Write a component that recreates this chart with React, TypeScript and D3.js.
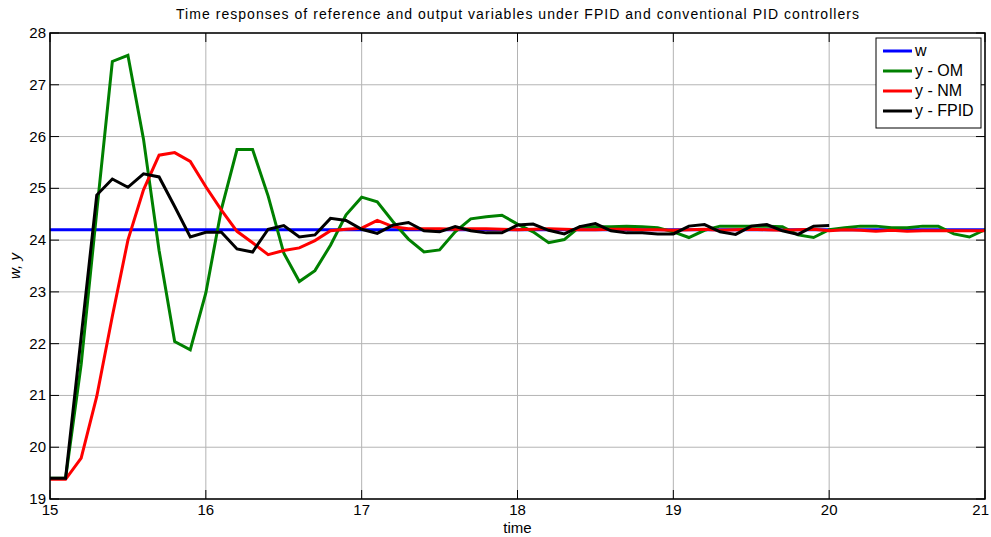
import React from "react";
import * as d3 from "d3";

const W = 991;
const H = 537;

const xTicks = [15, 16, 17, 18, 19, 20, 21];
const yTicks = [19, 20, 21, 22, 23, 24, 25, 26, 27, 28];

const tStart = 15;
const tStep = 0.1;

const wValue = 24.2;
const wTimes = [15, 21];

const yOM = [
  19.4, 19.4, 21.6, 24.55, 27.45, 27.57, 25.95, 23.8, 22.04, 21.88,
  22.98, 24.6, 25.75, 25.75, 24.85, 23.75, 23.2, 23.41, 23.9, 24.49,
  24.83, 24.74, 24.36, 24.02, 23.77, 23.81, 24.16, 24.41, 24.45, 24.48,
  24.31, 24.16, 23.95, 24.01, 24.26, 24.26, 24.26, 24.27, 24.26, 24.24,
  24.16, 24.05, 24.19, 24.27, 24.27, 24.27, 24.27, 24.26, 24.1, 24.05,
  24.2, 24.24, 24.27, 24.27, 24.24, 24.24, 24.27, 24.27, 24.12, 24.06,
  24.2,
];

const yNM = [
  19.38, 19.38, 19.79, 20.98, 22.53, 24.0, 24.97, 25.64, 25.69, 25.52,
  25.03, 24.58, 24.17, 23.95, 23.72, 23.8, 23.85, 23.99, 24.18, 24.21,
  24.23, 24.38, 24.26, 24.22, 24.22, 24.22, 24.21, 24.22, 24.22, 24.21,
  24.2, 24.21, 24.22, 24.21, 24.2, 24.2, 24.21, 24.21, 24.2, 24.2,
  24.19, 24.2, 24.21, 24.19, 24.2, 24.21, 24.2, 24.19, 24.2, 24.21,
  24.18, 24.2, 24.19, 24.17, 24.19, 24.17, 24.18, 24.18, 24.18, 24.18,
  24.18,
];

const yFPID = [
  19.4, 19.4, 22.13, 24.87, 25.18, 25.02, 25.28, 25.22, 24.65, 24.06,
  24.15, 24.15, 23.83, 23.77, 24.21, 24.28, 24.06, 24.1, 24.42, 24.38,
  24.21, 24.13, 24.29, 24.34, 24.18, 24.16, 24.26, 24.18, 24.14, 24.14,
  24.29, 24.31, 24.19, 24.12, 24.26, 24.32, 24.18, 24.14, 24.14, 24.12,
  24.12, 24.27, 24.3, 24.16, 24.11, 24.27, 24.3, 24.18, 24.11, 24.27,
  24.28,
];

const legendLabels = ["w", "y - OM", "y - NM", "y - FPID"];
const seriesColors = ["#0000ff", "#008000", "#ff0000", "#000000"];

const FONT = "Arial, 'Liberation Sans', Helvetica, sans-serif";

export default function App() {
  const left = 50, right = 985, top = 33, bottom = 499;
  const x = d3.scaleLinear().domain([15, 21]).range([left, right]);
  const y = d3.scaleLinear().domain([19, 28]).range([bottom, top]);

  const toPts = (vals: number[]) => vals.map((v, i) => [tStart + i * tStep, v] as [number, number]);
  const line = d3.line<[number, number]>().x((d) => x(d[0])).y((d) => y(d[1]));

  const wPts: [number, number][] = wTimes.map((t) => [t, wValue]);
  const series = [wPts, toPts(yOM), toPts(yNM), toPts(yFPID)];

  const tickLen = 9;
  const lg = { x: 876, y: 38, w: 105, h: 90 };

  return (
    <svg width={W} height={H} style={{ position: "absolute", left: 0, top: 0, background: "#fff" }} fontFamily={FONT}>
      <rect x={0} y={0} width={W} height={H} fill="#fff" />
      {/* grid */}
      {xTicks.map((t) => (
        <line key={"gx" + t} x1={x(t)} x2={x(t)} y1={top} y2={bottom} stroke="#b4b4b4" strokeWidth={1} />
      ))}
      {yTicks.map((t) => (
        <line key={"gy" + t} x1={left} x2={right} y1={y(t)} y2={y(t)} stroke="#b4b4b4" strokeWidth={1} />
      ))}
      {/* series */}
      {series.map((pts, i) => (
        <path key={"s" + i} d={line(pts) || ""} fill="none" stroke={seriesColors[i]} strokeWidth={3} strokeLinejoin="miter" />
      ))}
      {/* frame */}
      <rect x={left} y={top} width={right - left} height={bottom - top} fill="none" stroke="#000" strokeWidth={1.5} />
      {/* ticks */}
      {xTicks.map((t, i) => (
        <g key={"tx" + t}>
          <line x1={x(t)} x2={x(t)} y1={bottom} y2={bottom - tickLen} stroke="#000" />
          <line x1={x(t)} x2={x(t)} y1={top} y2={top + tickLen} stroke="#000" />
          <text
            x={i === xTicks.length - 1 ? W - 2 : x(t)}
            y={bottom + 16}
            textAnchor={i === xTicks.length - 1 ? "end" : "middle"}
            fontSize={15}
            fill="#000"
          >
            {t}
          </text>
        </g>
      ))}
      {yTicks.map((t) => (
        <g key={"ty" + t}>
          <line x1={left} x2={left + tickLen} y1={y(t)} y2={y(t)} stroke="#000" />
          <line x1={right} x2={right - tickLen} y1={y(t)} y2={y(t)} stroke="#000" />
          <text x={left - 4} y={y(t) + 5} textAnchor="end" fontSize={15} fill="#000">{t}</text>
        </g>
      ))}
      {/* labels */}
      <text x={(left + right) / 2} y={19} textAnchor="middle" fontSize={14} textLength={683} lengthAdjust="spacing" fill="#000">
        Time responses of reference and output variables under FPID and conventional PID controllers
      </text>
      <text x={(left + right) / 2} y={533} textAnchor="middle" fontSize={15} fill="#000">time</text>
      <text transform={`translate(20, ${(top + bottom) / 2}) rotate(-90)`} textAnchor="middle" fontSize={15} fontStyle="italic" fill="#000">w, y</text>
      {/* legend */}
      <rect x={lg.x} y={lg.y} width={lg.w} height={lg.h} fill="#fff" stroke="#000" strokeWidth={1} />
      {legendLabels.map((l, i) => {
        const ry = 51 + i * 20;
        return (
          <g key={"lg" + i}>
            <line x1={883} x2={912} y1={ry} y2={ry} stroke={seriesColors[i]} strokeWidth={3} />
            <text x={915} y={ry + 5} fontSize={16} fill="#000">{l}</text>
          </g>
        );
      })}
    </svg>
  );
}
